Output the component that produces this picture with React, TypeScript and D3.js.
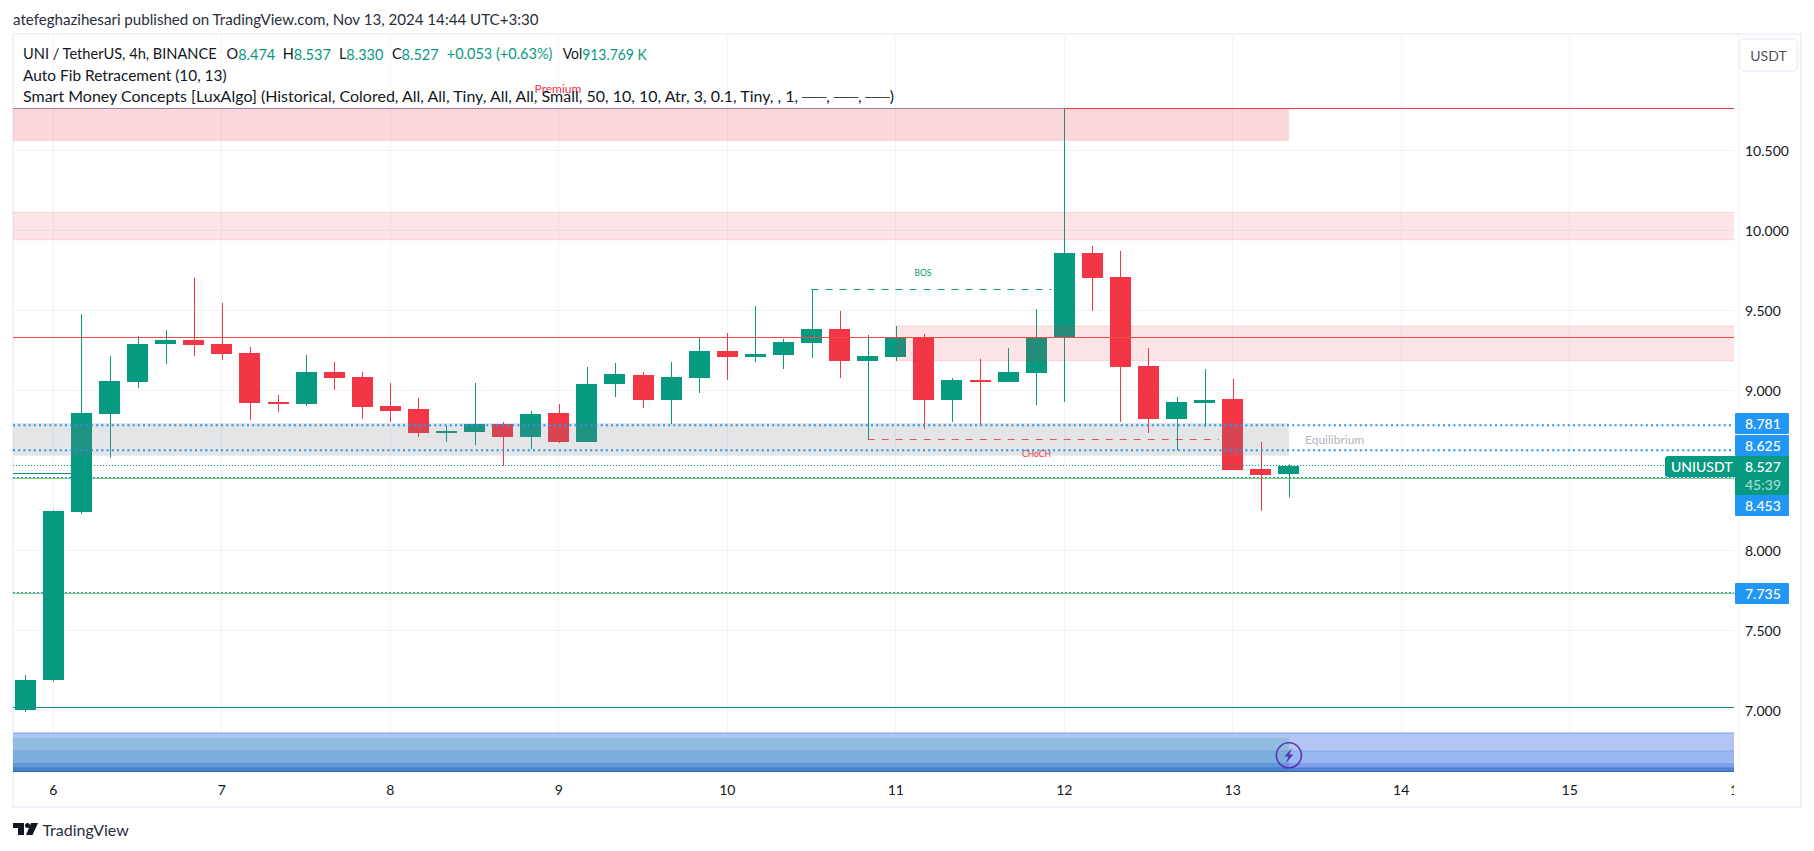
import React from "react";
import * as d3 from "d3";

const W = 1814, H = 851;
const paneLeft = 13, paneRight = 1734, paneTop = 34, paneBottom = 772;

// [open, high, low, close]
const candles: [number, number, number, number][] = [
  [7.002, 7.22, 6.99, 7.19], [7.19, 8.25, 7.18, 8.246], [8.239, 9.477, 8.227, 8.858], [8.852, 9.214, 8.579, 9.058],
  [9.052, 9.339, 9.014, 9.289], [9.289, 9.377, 9.164, 9.314], [9.314, 9.704, 9.214, 9.283], [9.289, 9.546, 9.189, 9.227],
  [9.233, 9.271, 8.814, 8.921], [8.927, 8.971, 8.864, 8.921], [8.914, 9.221, 8.902, 9.114], [9.114, 9.177, 9.002, 9.077],
  [9.083, 9.114, 8.821, 8.896], [8.902, 9.046, 8.802, 8.871], [8.883, 8.952, 8.708, 8.733], [8.733, 8.777, 8.677, 8.746],
  [8.739, 9.046, 8.658, 8.789], [8.789, 8.802, 8.527, 8.708], [8.708, 8.871, 8.633, 8.852], [8.858, 8.914, 8.671, 8.677],
  [8.677, 9.146, 8.677, 9.039], [9.039, 9.171, 8.958, 9.102], [9.096, 9.114, 8.889, 8.939], [8.939, 9.177, 8.789, 9.083],
  [9.077, 9.331, 8.983, 9.246], [9.246, 9.358, 9.064, 9.208], [9.208, 9.527, 9.177, 9.227], [9.221, 9.321, 9.133, 9.302],
  [9.296, 9.631, 9.202, 9.383], [9.383, 9.496, 9.077, 9.183], [9.183, 9.346, 8.694, 9.214], [9.208, 9.402, 9.183, 9.331],
  [9.331, 9.352, 8.758, 8.939], [8.939, 9.077, 8.802, 9.064], [9.064, 9.196, 8.783, 9.058], [9.052, 9.264, 9.052, 9.114],
  [9.108, 9.508, 8.908, 9.333], [9.329, 10.7625, 8.927, 9.858], [9.858, 9.902, 9.496, 9.702], [9.708, 9.871, 8.802, 9.146],
  [9.152, 9.264, 8.733, 8.821], [8.821, 8.958, 8.627, 8.927], [8.921, 9.133, 8.771, 8.939], [8.946, 9.071, 8.502, 8.502],
  [8.508, 8.677, 8.247, 8.47], [8.474, 8.537, 8.33, 8.527],
];

const priceTicks = [7, 7.5, 8, 8.5, 9, 9.5, 10, 10.5];
const visiblePriceTicks = [7, 7.5, 8, 9, 9.5, 10, 10.5];
const dayLabels = ["6", "7", "8", "9", "10", "11", "12", "13", "14", "15", "16"];
const dayIndexes = [1, 7, 13, 19, 25, 31, 37, 43, 49, 55, 61];

const premiumZone = [10.7625, 10.558];
const upperZone = [10.1125, 9.9413];
const orderBlock = [9.402, 9.185];
const equilibriumZone = [8.796, 8.591];
const resistance = 9.331;
const fibBlue = [8.781, 8.625];
const fibThin = [8.453, 7.735];
const lastPrice = 8.527;
const supportLine = 7.019;
const oldLine = 8.481;
const bos = { price: 9.631, from: 28, to: 36.55 };
const choch = { price: 8.694, from: 30, to: 42.5 };

const bandPrices = [6.858, 6.827, 6.746, 6.671, 6.64, 6.615];
const bandRight = ["#b0c4f2", "#b0c4f2", "#95b4ef", "#7a9beb", "#4f7fdc"];
const bandLeft = ["#b0c4f2", "#90bade", "#7aaddc", "#5f97d6", "#4a82cc"];

const legendValues = [
  { x: 226.6, k: "O", v: "8.474" },
  { x: 282.7, k: "H", v: "8.537" },
  { x: 338.9, k: "L", v: "8.330" },
  { x: 391.9, k: "C", v: "8.527" },
];

const UP = "#089981", DOWN = "#f23645", GRID = "#f0f3fa", BLUE = "#2196f3", INK = "#131722";
const FONT = "Lato, 'Open Sans', sans-serif";

export default function App() {
  const y = d3.scaleLinear().domain([9.5, 7]).range([310.3, 710.3]);
  const x = d3.scaleLinear().domain([0, 45]).range([25.3, 25.3 + 45 * 28.08]);
  const lastX = x(45);
  const bodyW = 21;
  const band = (zone: number[]) => ({ y: y(zone[0]), height: y(zone[1]) - y(zone[0]) });
  const crisp = (v: number) => Math.round(v - 0.5) + 0.5;

  return (
    <svg width={W} height={H} viewBox={`0 0 ${W} ${H}`} style={{ position: "absolute", left: 0, top: 0, display: "block", background: "#fff", fontFamily: FONT }}>
      <text x={13} y={25} fontSize={15} fill="#2a2e39" textLength={525.5} lengthAdjust="spacingAndGlyphs">atefeghazihesari published on TradingView.com, Nov 13, 2024 14:44 UTC+3:30</text>
      <rect x={13} y={34} width={1788} height={773} fill="none" stroke={GRID} strokeWidth={2} />

      {priceTicks.map((t) => (
        <line key={t} x1={paneLeft} x2={paneRight} y1={crisp(y(t))} y2={crisp(y(t))} stroke={GRID} />
      ))}
      {dayIndexes.map((i) => (
        <line key={i} x1={crisp(x(i))} x2={crisp(x(i))} y1={paneTop} y2={paneBottom} stroke={GRID} />
      ))}

      {/* liquidity bands */}
      {bandRight.map((c, i) => (
        <rect key={i} x={paneLeft} width={paneRight - paneLeft} y={y(bandPrices[i])} height={y(bandPrices[i + 1]) - y(bandPrices[i])} fill={c} fillOpacity={0.96} />
      ))}
      {bandLeft.map((c, i) => (
        <rect key={i} x={paneLeft} width={x(45) - paneLeft} y={y(bandPrices[i])} height={y(bandPrices[i + 1]) - y(bandPrices[i])} fill={c} fillOpacity={0.96} />
      ))}
      <line x1={paneLeft} x2={paneRight} y1={y(bandPrices[0])} y2={y(bandPrices[0])} stroke="#7f9ee0" />
      <line x1={paneLeft} x2={paneRight} y1={y(bandPrices[2])} y2={y(bandPrices[2])} stroke="#7f9ee0" strokeOpacity={0.7} />
      <line x1={paneLeft} x2={paneRight} y1={y(bandPrices[4])} y2={y(bandPrices[4])} stroke="#3f74c8" strokeOpacity={0.7} />
      <line x1={paneLeft} x2={paneRight} y1={y(bandPrices[5]) - 0.5} y2={y(bandPrices[5]) - 0.5} stroke="#2a6bb0" />

      {/* horizontal levels behind candles */}
      <line x1={paneLeft} x2={x(2)} y1={crisp(y(oldLine))} y2={crisp(y(oldLine))} stroke="#1e8a7c" />
      <line x1={paneLeft} x2={paneRight} y1={crisp(y(supportLine))} y2={crisp(y(supportLine))} stroke="#1e8a7c" />
      {fibThin.map((p) => (
        <g key={p}>
          <line x1={paneLeft} x2={paneRight} y1={crisp(y(p)) + 1} y2={crisp(y(p)) + 1} stroke="#81c784" />
          <line x1={paneLeft} x2={paneRight} y1={crisp(y(p))} y2={crisp(y(p))} stroke={BLUE} strokeDasharray="2 2" />
        </g>
      ))}

      {/* candles */}
      {candles.map(([o, h, l, c], i) => {
        const col = c >= o ? UP : DOWN;
        const top = y(Math.max(o, c));
        const bot = y(Math.min(o, c));
        const cx = x(i);
        return (
          <g key={i}>
            <line x1={Math.round(cx) + 0.5} x2={Math.round(cx) + 0.5} y1={y(h)} y2={y(l)} stroke={col} />
            <rect x={Math.round(cx - bodyW / 2)} width={bodyW} y={Math.round(top)} height={Math.max(2, Math.round(bot - top))} fill={col} />
          </g>
        );
      })}

      {/* zones over candles */}
      <rect x={paneLeft} width={lastX - paneLeft} {...band(premiumZone)} fill={DOWN} fillOpacity={0.2} />
      <rect x={paneLeft} width={paneRight - paneLeft} {...band(upperZone)} fill={DOWN} fillOpacity={0.13} />
      <line x1={paneLeft} x2={paneRight} y1={y(upperZone[0])} y2={y(upperZone[0])} stroke={DOWN} strokeOpacity={0.15} />
      <line x1={paneLeft} x2={paneRight} y1={y(upperZone[1])} y2={y(upperZone[1])} stroke={DOWN} strokeOpacity={0.15} />
      <rect x={x(31)} width={paneRight - x(31)} {...band(orderBlock)} fill={DOWN} fillOpacity={0.13} />
      <line x1={x(31)} x2={paneRight} y1={y(orderBlock[0])} y2={y(orderBlock[0])} stroke={DOWN} strokeOpacity={0.15} />
      <line x1={x(31)} x2={paneRight} y1={y(orderBlock[1])} y2={y(orderBlock[1])} stroke={DOWN} strokeOpacity={0.15} />
      <rect x={paneLeft} width={lastX - paneLeft} {...band(equilibriumZone)} fill="#787b86" fillOpacity={0.2} />

      {/* premium top line + resistance */}
      <line x1={paneLeft} x2={x(37)} y1={crisp(y(premiumZone[0]))} y2={crisp(y(premiumZone[0]))} stroke="#9b7fb5" />
      <line x1={x(37)} x2={paneRight} y1={crisp(y(premiumZone[0]))} y2={crisp(y(premiumZone[0]))} stroke={DOWN} />
      <line x1={paneLeft} x2={paneRight} y1={crisp(y(resistance))} y2={crisp(y(resistance))} stroke="#ee4b45" />

      {/* structure lines */}
      <line x1={x(bos.from)} x2={x(bos.to)} y1={crisp(y(bos.price))} y2={crisp(y(bos.price))} stroke={UP} strokeDasharray="7 7" />
      <line x1={x(choch.from)} x2={x(choch.to)} y1={crisp(y(choch.price))} y2={crisp(y(choch.price))} stroke={DOWN} strokeOpacity={0.85} strokeDasharray="7 7" />
      <text x={923} y={276} fontSize={8.5} textAnchor="middle" fill={UP}>BOS</text>
      <text x={1036.5} y={457} fontSize={8.5} textAnchor="middle" fill={DOWN}>CHoCH</text>
      <text x={558} y={93} fontSize={12} textAnchor="middle" fill={DOWN}>Premium</text>
      <text x={1305} y={444} fontSize={12} fill="#b2b5be">Equilibrium</text>

      {/* fib dotted levels */}
      {fibBlue.map((p) => (
        <line key={p} x1={paneLeft} x2={paneRight} y1={y(p)} y2={y(p)} stroke={BLUE} strokeWidth={2} strokeDasharray="2 3.2" />
      ))}
      <line x1={paneLeft} x2={paneRight} y1={crisp(y(lastPrice))} y2={crisp(y(lastPrice))} stroke={UP} strokeDasharray="1 2" />

      {/* lightning badge */}
      <g>
        <circle cx={lastX} cy={755.3} r={12.5} fill="none" stroke="#5e35b1" strokeWidth={1.6} />
        <path d={`M${lastX + 3} ${748} L${lastX - 4.5} ${756.5} L${lastX - 0.5} ${756.5} L${lastX - 3} ${763} L${lastX + 4.5} ${754.5} L${lastX + 0.5} ${754.5} Z`} fill="#5e35b1" />
      </g>

      {/* legend */}
      <g fontSize={14.5} fill={INK} dominantBaseline="central">
        <text x={23} y={53.7} textLength={193.7} lengthAdjust="spacingAndGlyphs">UNI / TetherUS, 4h, BINANCE</text>
        {legendValues.map((d) => (
          <text key={d.k} x={d.x} y={53.7}>{d.k}<tspan fill={UP}>{d.v}</tspan></text>
        ))}
        <text x={446.8} y={53.7} fill={UP}>+0.053 (+0.63%)</text>
        <text x={562.7} y={53.7} textLength={84} lengthAdjust="spacingAndGlyphs">Vol<tspan fill={UP}>913.769 K</tspan></text>
        <text x={23} y={75} textLength={203.6} lengthAdjust="spacingAndGlyphs">Auto Fib Retracement (10, 13)</text>
        <text x={23} y={96} textLength={871} lengthAdjust="spacingAndGlyphs">Smart Money Concepts [LuxAlgo] (Historical, Colored, All, All, Tiny, All, All, Small, 50, 10, 10, Atr, 3, 0.1, Tiny, , 1, ──, ──, ──)</text>
      </g>

      {/* price axis */}
      <g fontSize={14} fill={INK} dominantBaseline="central">
        {visiblePriceTicks.map((t) => (
          <text key={t} x={1745} y={y(t)}>{t.toFixed(3)}</text>
        ))}
      </g>
      <g fontSize={14} fontWeight={500} fill="#fff" dominantBaseline="central">
        {[
          { t: 413, b: 434, p: "8.781" },
          { t: 435, b: 456, p: "8.625" },
          { t: 495, b: 516, p: "8.453" },
          { t: 583, b: 604, p: "7.735" },
        ].map((d) => (
          <g key={d.p}>
            <rect x={1735} width={54} y={d.t} height={d.b - d.t} fill={BLUE} rx={1} />
            <text x={1745} y={(d.t + d.b) / 2}>{d.p}</text>
          </g>
        ))}
        <rect x={1735} y={456} width={54} height={39} fill={UP} />
        <text x={1745} y={466.5}>8.527</text>
        <text x={1745} y={484} fillOpacity={0.65}>45:39</text>
        <path d="M1735 456H1668a3 3 0 0 0 -3 3V474a3 3 0 0 0 3 3H1735Z" fill={UP} />
        <text x={1671} y={466.5}>UNIUSDT</text>
      </g>

      {/* time axis */}
      <g fontSize={14} fill={INK} textAnchor="middle" dominantBaseline="central">
        {dayLabels.map((d, i) => (
          <text key={i} x={x(dayIndexes[i]) - 4} y={789} dx={4}>{d}</text>
        ))}
      </g>
      <rect x={1734} y={772} width={66} height={33} fill="#fff" />

      {/* currency button */}
      <rect x={1739.5} y={39} width={58} height={32} rx={5} fill="#fff" stroke={GRID} strokeWidth={2} />
      <text x={1768.5} y={55} fontSize={14} textAnchor="middle" dominantBaseline="central" fill="#50535e">USDT</text>

      {/* logo */}
      <g fill="#131722">
        <path d="M13 823H24V835H18V828H13Z" />
        <circle cx={27.5} cy={825.5} r={2.5} />
        <path d="M31 823H38L32.5 835H26Z" />
      </g>
      <text x={42.4} y={829} fontSize={16} fill="#2a2e39" dominantBaseline="central">TradingView</text>
    </svg>
  );
}
